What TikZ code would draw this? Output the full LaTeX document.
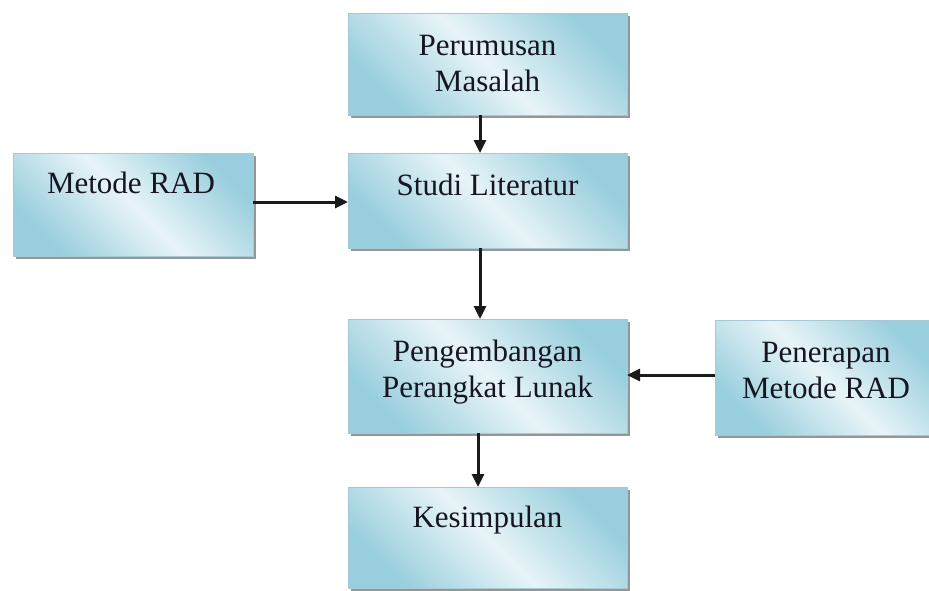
\documentclass[tikz,border=0pt]{standalone}
\usepackage{fontspec}
\setmainfont{Liberation Serif}
\usetikzlibrary{arrows.meta,shadows}
\definecolor{boxdark}{HTML}{98CEDD}
\definecolor{boxlight}{HTML}{E8F4F7}
\definecolor{boxedge}{HTML}{A4CAD6}
\definecolor{txt}{HTML}{161622}
\definecolor{arrcol}{HTML}{1A1A1A}
\begin{document}
\begin{tikzpicture}[x=1pt,y=-1pt,
  box/.style={draw=boxedge, line width=0.8pt, rectangle, inner sep=0pt, outer sep=0pt,
    top color=boxdark, bottom color=boxdark, middle color=boxlight, shading angle=-45,
    drop shadow={shadow xshift=2.5pt, shadow yshift=-2.5pt, fill=black!55, opacity=0.75}},
  lbl/.style={font=\fontsize{31}{36}\selectfont, text=txt, align=center, inner sep=0pt},
  arr/.style={draw=arrcol, line width=3pt, -{Triangle[length=13pt,width=12pt]}}]
\useasboundingbox (0,0) rectangle (929,590);
\clip (0,0) rectangle (929,590);
\fill[white] (0,0) rectangle (929,590);
% boxes
\node[box, minimum width=279pt, minimum height=102pt] (pm) at (487.5,64) {};
\node[box, minimum width=279pt, minimum height=95pt]  (sl) at (487.5,200.5) {};
\node[box, minimum width=240pt, minimum height=103pt] (mr) at (133,204.5) {};
\node[box, minimum width=279pt, minimum height=114pt] (pg) at (487.5,376) {};
\node[box, minimum width=222pt, minimum height=115pt] (pr) at (826,377.5) {};
\node[box, minimum width=279pt, minimum height=101pt] (ks) at (487.5,537.5) {};
% labels
\node[lbl] (tpm) at (487.5,63) {Perumusan\\Masalah};
\node[lbl, anchor=base] (tsl) at (487.5,195) {Studi Literatur};
\node[lbl, anchor=base] (tmr) at (131,193) {Metode RAD};
\node[lbl] (tpg) at (487.5,372) {Pengembangan\\Perangkat Lunak};
\node[lbl] (tpr) at (826,370) {Penerapan\\Metode RAD};
\node[lbl, anchor=base] (tks) at (487.5,527) {Kesimpulan};
% connectors
\draw[arr] (pm.south -| 480,0) -- (sl.north -| 480,0);
\draw[arr] (mr.east |- 0,202) -- (sl.west |- 0,202);
\draw[arr] (sl.south -| 480,0) -- (pg.north -| 480,0);
\draw[arr] (pr.west |- 0,375) -- (pg.east |- 0,375);
\draw[arr] (pg.south -| 478,0) -- (ks.north -| 478,0);
\end{tikzpicture}
\end{document}
